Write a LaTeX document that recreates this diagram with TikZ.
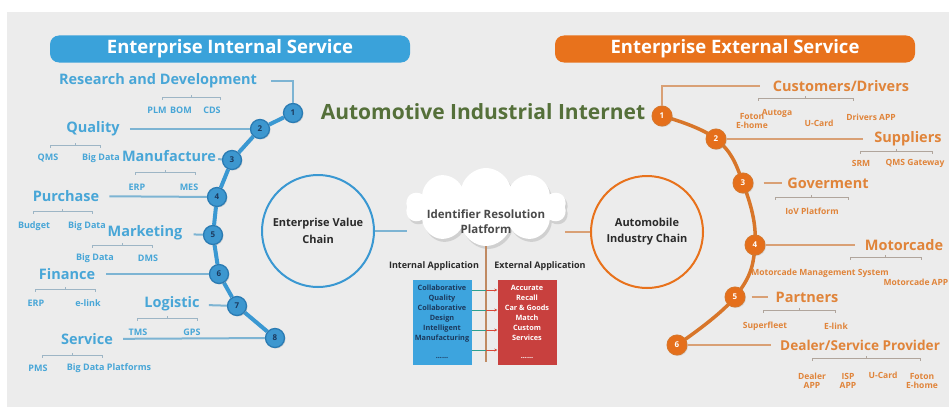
\documentclass[tikz,border=0pt]{standalone}
\usepackage{fontspec}
\setmainfont{Open Sans}
\usetikzlibrary{arrows.meta,positioning,backgrounds,shapes.symbols,shadows}
\definecolor{aiGrey}{HTML}{ECECEC}
\definecolor{aiDark}{HTML}{2A2A2A}
\definecolor{aiGreen}{HTML}{55703A}
\definecolor{inBlue}{HTML}{3AA2DA}
\definecolor{inText}{HTML}{48A6D7}
\definecolor{inDot}{HTML}{3D97CF}
\definecolor{inRing}{HTML}{2A7BB3}
\definecolor{inNavy}{HTML}{1C3A5E}
\definecolor{inLine}{HTML}{7DB4D3}
\definecolor{inChain}{HTML}{3A98D2}
\definecolor{inBrk}{HTML}{9DB5C5}
\definecolor{exOrange}{HTML}{E8721C}
\definecolor{exText}{HTML}{E0843A}
\definecolor{exDot}{HTML}{E56F1B}
\definecolor{exLine}{HTML}{D9A075}
\definecolor{exChain}{HTML}{D8762A}
\definecolor{exBrk}{HTML}{B0A59C}
\definecolor{boxBlue}{HTML}{3DA4DE}
\definecolor{boxRed}{HTML}{C8403E}
\definecolor{tealArr}{HTML}{2E9F8F}
\definecolor{redArr}{HTML}{D84A3A}
\definecolor{axisCol}{HTML}{C08A62}
\tikzset{
  bann/.style   = {rectangle, rounded corners=9pt, minimum width=360,
                   minimum height=27, text=white,
                   font=\fontsize{18.5}{20}\selectfont\bfseries},
  lblin/.style  = {text=inText, font=\fontsize{14.5}{16}\selectfont\bfseries, inner sep=1pt},
  lblex/.style  = {text=exText, font=\fontsize{14.5}{16}\selectfont\bfseries, inner sep=1pt},
  subin/.style  = {text=inText, font=\fontsize{9}{10}\selectfont\bfseries,
                   inner sep=0.5pt, align=center},
  subex/.style  = {text=exText, font=\fontsize{8.5}{9.5}\selectfont\bfseries,
                   inner sep=0.5pt, align=center},
  dotin/.style  = {circle, fill=inDot, draw=inRing, line width=1.3pt,
                   minimum size=19, inner sep=0pt, text=inNavy,
                   font=\fontsize{8}{9}\selectfont\bfseries,
                   drop shadow={opacity=0.25, shadow xshift=1pt, shadow yshift=-1pt}},
  dotex/.style  = {circle, fill=exDot, draw=exChain, line width=1pt,
                   minimum size=20, inner sep=0pt, text=white,
                   font=\fontsize{8}{9}\selectfont\bfseries,
                   drop shadow={opacity=0.2, shadow xshift=1pt, shadow yshift=-1pt}},
  linkin/.style = {draw=inLine, line width=2pt},
  linkex/.style = {draw=exLine, line width=1.5pt},
  brkin/.style  = {draw=inBrk, line width=0.6pt},
  brkex/.style  = {draw=exBrk, line width=0.6pt},
  chainin/.style= {draw=inChain, line width=4pt},
  chainex/.style= {draw=exChain, line width=3.5pt, line cap=round},
  ring/.style   = {circle, line width=2pt, minimum size=112, align=center,
                   text=aiDark, inner sep=0pt},
  app/.style    = {rectangle, minimum width=59, minimum height=85, align=center,
                   font=\fontsize{7.3}{10}\selectfont\bfseries, inner sep=1pt},
  hdr/.style    = {font=\fontsize{9}{10}\selectfont\bfseries, text=aiDark, inner sep=0.5pt},
  fromin/.style = {draw=tealArr, line width=1pt},
  toex/.style   = {-{Stealth[length=3pt,width=3pt]}, draw=redArr, line width=1pt},
}
\begin{document}
\begin{tikzpicture}[x=1pt,y=-1pt]
  \useasboundingbox (0,0) rectangle (949,412);
  \clip (0,0) rectangle (949,412);
  \begin{scope}[on background layer]
    \fill[white] (0,0) rectangle (949,412);
    \fill[aiGrey] (7,12) rectangle (949,407);
  \end{scope}
  % banners and title
  \node[bann, fill=inBlue] (inb) at (230,49) {Enterprise Internal Service};
  \node[bann, fill=exOrange] (exb) at (735,49) {Enterprise External Service};
  \node[text=aiGreen, font=\fontsize{21}{24}\selectfont\bfseries] (ttl) at (483,112)
    {Automotive Industrial Internet};
  % internal service chain
  \foreach \n/\x/\y in {1/293/113, 2/260/129, 3/232/160, 4/217/197,
                        5/213/235, 6/219/274, 7/237/306, 8/275/338}{
    \node[dotin] (c\n) at (\x,\y) {\n};
  }
  \node[lblin] (rd) at (158,81)  {Research and Development};
  \node[lblin] (qa) at (93,129)  {Quality};
  \node[lblin] (mf) at (169,156) {Manufacture};
  \node[lblin] (pu) at (66,196)  {Purchase};
  \node[lblin] (mk) at (145,233) {Marketing};
  \node[lblin] (fi) at (67,274)  {Finance};
  \node[lblin] (lo) at (172,304) {Logistic};
  \node[lblin] (sv) at (87,339)  {Service};
  \draw[linkin, shorten <=13pt] (rd.east) -| (c1);
  \draw[linkin, shorten <=9pt]  (qa) -- (c2);
  \draw[linkin, shorten <=1pt]  (mf) -- (c3);
  \draw[linkin, shorten <=9pt]  (pu) -- (c4);
  \draw[linkin, shorten <=10pt] (mk) -- (c5);
  \draw[linkin, shorten <=10pt] (fi) -- (c6);
  \draw[linkin, shorten <=8pt]  (lo) -- (c7);
  \draw[linkin, shorten <=9pt]  (sv) -- (c8);
  \foreach \x/\y/\t [count=\i] in {157/110/PLM, 181/110/BOM, 212/110/CDS,
      48/158/QMS, 101/158/Big Data, 137/187/ERP, 189/187/MES,
      34/226/Budget, 87/226/Big Data, 95/258/Big Data, 148/258/DMS,
      36/303/ERP, 88/303/e-link, 138/332/TMS, 192/332/GPS,
      38/368/PMS, 109/368/Big Data Platforms}{
    \node[subin] (si\i) at (\x,\y) {\t};
  }
  \foreach \a/\b/\y in {162/220/97, 50/100/145, 135/195/172, 33/92/211,
                        92/152/245, 35/95/289, 137/197/318, 42/102/355}{
    \draw[brkin] (\a,\y+2.5) -- (\a,\y) -- (\b,\y) -- (\b,\y+2.5)
                 ({(\a+\b)/2},\y) -- ++(0,-2.5);
  }
  % external service chain
  \foreach \n/\x/\y in {1/662/116, 2/716/139, 3/743/183,
                        4/755/245, 5/735/297, 6/677/345}{
    \node[dotex] (r\n) at (\x,\y) {\n};
  }
  \node[lblex] (cd) at (841,86)  {Customers/Drivers};
  \node[lblex] (su) at (908,139) {Suppliers};
  \node[lblex] (gv) at (828,183) {Goverment};
  \node[lblex] (mo) at (904,245) {Motorcade};
  \node[lblex] (pa) at (807,297) {Partners};
  \node[lblex, anchor=west, font=\fontsize{13.6}{16}\selectfont\bfseries] (dsp) at (779,345)
    {Dealer/Service Provider};
  \draw[linkex, shorten <=12pt] (cd.west) -| (r1);
  \draw[linkex, shorten >=10pt] (r2) -- (su);
  \draw[linkex, shorten <=10pt, shorten >=4pt] (r3) -- (gv);
  \draw[linkex, shorten >=9pt]  (r4) -- (mo);
  \draw[linkex, shorten <=6pt, shorten >=6pt] (r5) -- (pa);
  \draw[linkex, shorten >=8pt] (r6) -- (dsp);
  \foreach \x/\y/\t [count=\i] in {752/121/{Foton\\E-home}, 777/113/Autoga,
      819/123/U-Card, 871/117/Drivers APP, 861/163/SRM, 812/211/IoV Platform,
      820/273/Motorcade Management System, 765/326/Superfleet, 836/326/E-link,
      812/381/{Dealer\\APP}, 848/381/{ISP\\APP}, 883/375/U-Card,
      922/381/{Foton\\E-home}}{
    \node[subex] (se\i) at (\x,\y) {\t};
  }
  \node[subex, anchor=west] (qg) at (885,163) {QMS Gateway};
  \node[subex, anchor=west] (mapp) at (883,282) {Motorcade APP};
  \foreach \a/\b/\y in {758/853/98, 860/932/151, 775/848/197,
                        850/921/257, 763/835/310, 812/920/358}{
    \draw[brkex] (\a,\y+2.5) -- (\a,\y) -- (\b,\y) -- (\b,\y+2.5)
                 ({(\a+\b)/2},\y) -- ++(0,-2.5);
  }
  % value chains and platform
  \node[ring, draw=inChain, font=\fontsize{11}{17}\selectfont\bfseries] (evc) at (318,231)
    {Enterprise Value\\Chain};
  \node[ring, draw=exOrange, font=\fontsize{11}{16}\selectfont\bfseries] (aic) at (647,232)
    {Automobile\\Industry Chain};
  \node[cloud, cloud puffs=10, aspect=2.1, fill=white, minimum width=160,
        minimum height=78,
        drop shadow={opacity=0.25, shadow xshift=2pt, shadow yshift=-3pt}] (irp) at (486,207) {};
  \node[text=aiDark!85, align=center, font=\fontsize{11.5}{15}\selectfont\bfseries]
    (irptxt) at (486,222) {Identifier Resolution\\Platform};
  \node[hdr] (ial) at (434,266) {Internal Application};
  \node[hdr] (eal) at (540,266) {External Application};
  \node[app, fill=boxBlue, text=inNavy] (ia) at (442,322)
    {Collaborative\\Quality\\Collaborative\\Design\\Intelligent\\Manufacturing\\[8pt]......};
  \node[app, fill=boxRed, text=white] (ea) at (527,322)
    {Accurate\\Recall\\Car \& Goods\\Match\\Custom\\Services\\[8pt]......};
  \coordinate (axb) at (486,362);
  \draw[draw=axisCol, line width=1.2pt] (irp.south) -- (axb);
  \foreach \y [count=\i] in {290,310,330,350}{
    \coordinate (m\i) at (486,\y);
    \draw[fromin] (m\i -| ia.east) -- (m\i);
    \draw[toex] (m\i) -- (m\i -| ea.west);
  }
  \begin{scope}[on background layer]
    \foreach \a/\b in {1/2,2/3,3/4,4/5,5/6,6/7,7/8}{ \draw[chainin] (c\a) -- (c\b); }
    \draw[chainex] plot[smooth, tension=0.7] coordinates
      {(r1.center) (r2.center) (r3.center) (r4.center) (r5.center) (r6.center)};
    \draw[linkin] (evc.east) -- (evc.east -| irp.west);
    \draw[linkex] (aic.west) -- (aic.west -| irp.east);
  \end{scope}
\end{tikzpicture}
\end{document}
